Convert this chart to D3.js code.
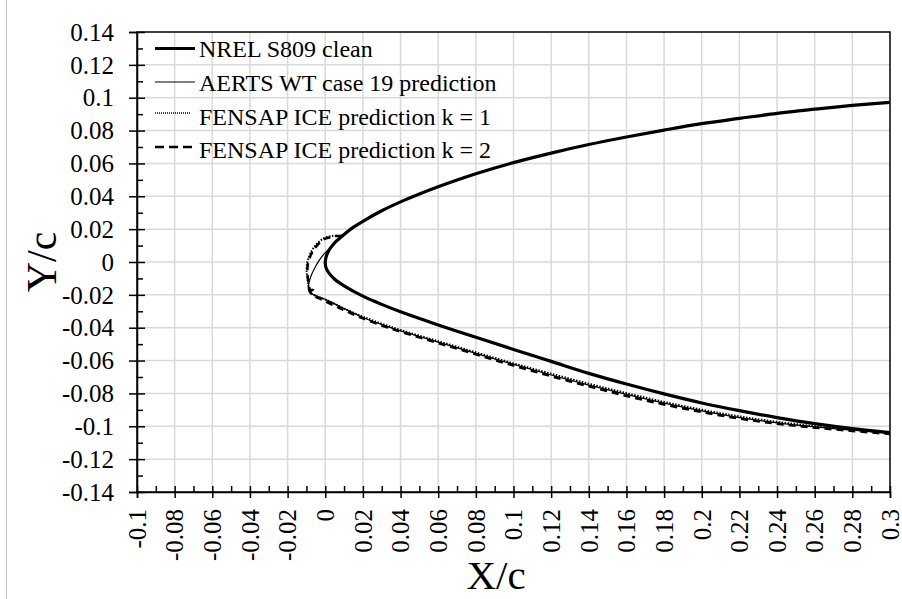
<!DOCTYPE html>
<html>
<head>
<meta charset="utf-8">
<script src="https://cdn.jsdelivr.net/npm/d3@7"></script>
<style>
  html, body { margin: 0; padding: 0; background: #fff; }
  svg { display: block; }
</style>
</head>
<body>
<svg id="chart" width="902" height="599"></svg>
<script>
// ---- Data: chord-normalised coordinates (x/c, y/c) ----
// Clean NREL S809 contour, upper surface from x/c = 0.3 to the nose, then lower surface back to 0.3
const nrelClean = [
  [0.30, 0.0972], [0.28, 0.0953], [0.26, 0.0930], [0.24, 0.0905], [0.22, 0.0874],
  [0.20, 0.0842], [0.18, 0.0803], [0.16, 0.0761], [0.14, 0.0715], [0.12, 0.0663],
  [0.10, 0.0605], [0.08, 0.0537], [0.06, 0.0458], [0.05, 0.0414], [0.04, 0.0366],
  [0.03, 0.0312], [0.02, 0.0248], [0.015, 0.0212], [0.01, 0.0168], [0.006, 0.0128],
  [0.003, 0.0089], [0.0012, 0.0055], [0.0003, 0.0024], [0.0, -0.0008],
  [0.0005, -0.0038], [0.002, -0.0068], [0.005, -0.0105], [0.01, -0.0145],
  [0.02, -0.0208], [0.03, -0.0258], [0.04, -0.0303], [0.06, -0.0383], [0.08, -0.0458],
  [0.10, -0.0532], [0.12, -0.0605], [0.14, -0.0678], [0.16, -0.0743], [0.18, -0.0803],
  [0.20, -0.0858], [0.22, -0.0905], [0.24, -0.0947], [0.26, -0.0984], [0.28, -0.1014],
  [0.30, -0.1038]
];

// Ice shape measured in the AERTS wind tunnel, case 19
const aertsCase19 = [
  [0.0035, 0.0093], [0.001, 0.0068], [-0.0015, 0.0038], [-0.0035, 0.0005],
  [-0.0055, -0.0035], [-0.0072, -0.0075], [-0.0083, -0.0112], [-0.0090, -0.0148],
  [-0.0088, -0.0175], [-0.0075, -0.0192], [-0.0050, -0.0205], [-0.0020, -0.0218],
  [0.002, -0.0238], [0.006, -0.0260], [0.01, -0.0283], [0.015, -0.0310],
  [0.02, -0.0338], [0.03, -0.0381], [0.04, -0.0419], [0.06, -0.0488], [0.08, -0.0556],
  [0.10, -0.0623], [0.12, -0.0688], [0.14, -0.0749], [0.16, -0.0806], [0.18, -0.0859],
  [0.20, -0.0906], [0.22, -0.0947], [0.24, -0.0979], [0.26, -0.1004], [0.28, -0.1024],
  [0.30, -0.1043]
];

// FENSAP-ICE prediction, roughness k = 1
const fensapK1 = [
  [0.0075, 0.0158], [0.005, 0.0160], [0.002, 0.0155], [-0.001, 0.0142],
  [-0.0035, 0.0122], [-0.0055, 0.0097], [-0.0072, 0.0068], [-0.0085, 0.0035],
  [-0.0095, 0.0000], [-0.0099, -0.0040], [-0.0097, -0.0080], [-0.0092, -0.0122],
  [-0.0087, -0.0158], [-0.0082, -0.0182], [-0.0070, -0.0195], [-0.0040, -0.0212],
  [0.0, -0.0228], [0.005, -0.0255], [0.01, -0.0283], [0.02, -0.0333], [0.03, -0.0375],
  [0.04, -0.0414], [0.06, -0.0482], [0.08, -0.0550], [0.10, -0.0617], [0.12, -0.0680],
  [0.14, -0.0741], [0.16, -0.0798], [0.18, -0.0852], [0.20, -0.0899], [0.22, -0.0940],
  [0.24, -0.0973], [0.26, -0.0999], [0.28, -0.1020], [0.30, -0.1040]
];

// FENSAP-ICE prediction, roughness k = 2 (small loop at the lower horn)
const fensapK2 = [
  [0.009, 0.0160], [0.006, 0.0158], [0.003, 0.0152], [0.0, 0.0142],
  [-0.0025, 0.0122], [-0.0048, 0.0095], [-0.0068, 0.0062], [-0.0082, 0.0028],
  [-0.0092, -0.0010], [-0.0095, -0.0050], [-0.0093, -0.0090], [-0.0088, -0.0130],
  [-0.0083, -0.0165], [-0.0078, -0.0185], [-0.0065, -0.0192], [-0.0058, -0.0180],
  [-0.0068, -0.0170], [-0.0080, -0.0178], [-0.0072, -0.0198], [-0.0050, -0.0212],
  [-0.0020, -0.0228], [0.002, -0.0250], [0.006, -0.0272], [0.01, -0.0293],
  [0.015, -0.0319], [0.02, -0.0343], [0.03, -0.0386], [0.04, -0.0424], [0.06, -0.0493],
  [0.08, -0.0562], [0.10, -0.0630], [0.12, -0.0695], [0.14, -0.0757], [0.16, -0.0815],
  [0.18, -0.0867], [0.20, -0.0913], [0.22, -0.0953], [0.24, -0.0984], [0.26, -0.1008],
  [0.28, -0.1028], [0.30, -0.1047]
];

const seriesNames = [
  "NREL S809 clean",
  "AERTS WT case 19 prediction",
  "FENSAP ICE prediction k = 1",
  "FENSAP ICE prediction k = 2"
];

// Axis ticks
const xTicks = [-0.1, -0.08, -0.06, -0.04, -0.02, 0, 0.02, 0.04, 0.06, 0.08, 0.1,
                0.12, 0.14, 0.16, 0.18, 0.2, 0.22, 0.24, 0.26, 0.28, 0.3];
const yTicks = [-0.14, -0.12, -0.1, -0.08, -0.06, -0.04, -0.02, 0,
                0.02, 0.04, 0.06, 0.08, 0.1, 0.12, 0.14];
const xLabel = "X/c";
const yLabel = "Y/c";

// ---- Layout ----
const FONT = "'Liberation Serif', 'Times New Roman', Times, serif";
const svg = d3.select("#chart");
const W = 902, H = 599;
const plot = { left: 137, right: 890, top: 32, bottom: 492 };

const x = d3.scaleLinear().domain([-0.1, 0.3]).range([plot.left, plot.right]);
const y = d3.scaleLinear().domain([-0.14, 0.14]).range([plot.bottom, plot.top]);

const fmt = v => String(+v.toFixed(2));
const minorOf = ticks => ticks.slice(0, -1).map((t, i) => +((t + ticks[i + 1]) / 2).toFixed(3));

// faint page edge on the left
svg.append("line")
  .attr("x1", 6.5).attr("x2", 6.5).attr("y1", 0).attr("y2", H)
  .attr("stroke", "#c8c8c8").attr("stroke-width", 1);

// ---- Grid ----
const grid = svg.append("g").attr("stroke", "#d9d9d9").attr("stroke-width", 1.5);
grid.selectAll("line.v").data(xTicks.slice(1, -1)).join("line")
  .attr("x1", d => x(d)).attr("x2", d => x(d))
  .attr("y1", plot.top).attr("y2", plot.bottom);
grid.selectAll("line.h").data(yTicks.slice(1, -1)).join("line")
  .attr("x1", plot.left).attr("x2", plot.right)
  .attr("y1", d => y(d)).attr("y2", d => y(d));

// ---- Curves ----
svg.append("defs").append("clipPath").attr("id", "clip")
  .append("rect").attr("x", plot.left).attr("y", plot.top)
  .attr("width", plot.right - plot.left).attr("height", plot.bottom - plot.top);

const line = d3.line().x(d => x(d[0])).y(d => y(d[1])).curve(d3.curveCatmullRom.alpha(0.5));

const styles = [
  { data: nrelClean,   width: 3.2, dash: null },
  { data: aertsCase19, width: 1.2, dash: null },
  { data: fensapK1,    width: 2,   dash: "1.5,1.5" },
  { data: fensapK2,    width: 2.6, dash: "7,5" }
];

const curves = svg.append("g").attr("clip-path", "url(#clip)");
styles.forEach(s => {
  curves.append("path")
    .attr("d", line(s.data))
    .attr("fill", "none")
    .attr("stroke", "#000")
    .attr("stroke-width", s.width)
    .attr("stroke-dasharray", s.dash)
    .attr("stroke-linejoin", "round");
});

// ---- Frame ----
svg.append("rect")
  .attr("x", plot.left).attr("y", plot.top)
  .attr("width", plot.right - plot.left).attr("height", plot.bottom - plot.top)
  .attr("fill", "none").attr("stroke", "#000").attr("stroke-width", 1.5);

// ---- Axes ----
const styleAxis = g => {
  g.select(".domain").attr("stroke", "#000").attr("stroke-width", 1.5);
  g.selectAll(".tick line").attr("stroke", "#000").attr("stroke-width", 1.5);
};

// y axis: major ticks crossing the axis, minor ticks inside
svg.append("g").attr("transform", `translate(${plot.left},0)`)
  .call(d3.axisLeft(y).tickValues(yTicks).tickSize(8).tickFormat(""))
  .call(styleAxis);
svg.append("g").attr("transform", `translate(${plot.left},0)`)
  .call(d3.axisLeft(y).tickValues(yTicks).tickSize(-8).tickFormat(""))
  .call(styleAxis).call(g => g.select(".domain").remove());
svg.append("g").attr("transform", `translate(${plot.left},0)`)
  .call(d3.axisLeft(y).tickValues(minorOf(yTicks)).tickSize(-6).tickFormat(""))
  .call(styleAxis).call(g => g.select(".domain").remove());

svg.append("g").selectAll("text").data(yTicks).join("text")
  .attr("x", 114).attr("y", d => y(d)).attr("dy", "0.35em")
  .attr("text-anchor", "end")
  .attr("font-family", FONT).attr("font-size", 25)
  .text(fmt);

// x axis
svg.append("g").attr("transform", `translate(0,${plot.bottom})`)
  .call(d3.axisBottom(x).tickValues(xTicks).tickSize(6).tickFormat(""))
  .call(styleAxis);
svg.append("g").attr("transform", `translate(0,${plot.bottom})`)
  .call(d3.axisBottom(x).tickValues(xTicks).tickSize(-6).tickFormat(""))
  .call(styleAxis).call(g => g.select(".domain").remove());
svg.append("g").attr("transform", `translate(0,${plot.bottom})`)
  .call(d3.axisBottom(x).tickValues(minorOf(xTicks)).tickSize(-6).tickFormat(""))
  .call(styleAxis).call(g => g.select(".domain").remove());

svg.append("g").selectAll("text").data(xTicks).join("text")
  .attr("transform", d => `translate(${x(d)},509) rotate(-90)`)
  .attr("dy", "0.35em")
  .attr("text-anchor", "end")
  .attr("font-family", FONT).attr("font-size", 25)
  .text(fmt);

// axis titles
svg.append("text")
  .attr("x", 496).attr("y", 589)
  .attr("text-anchor", "middle")
  .attr("font-family", FONT).attr("font-size", 41)
  .text(xLabel);
svg.append("text")
  .attr("transform", `translate(56,${y(0)}) rotate(-90)`)
  .attr("text-anchor", "middle")
  .attr("font-family", FONT).attr("font-size", 42)
  .text(yLabel);

// ---- Legend ----
const legendRows = [
  { base: 57,  lineY: 48.5, x2: 195 },
  { base: 91,  lineY: 82,   x2: 195 },
  { base: 125, lineY: 113,  x2: 191 },
  { base: 158, lineY: 147,  x2: 195 }
];
const legend = svg.append("g");
legendRows.forEach((r, i) => {
  legend.append("line")
    .attr("x1", 155).attr("x2", r.x2).attr("y1", r.lineY).attr("y2", r.lineY)
    .attr("stroke", "#000")
    .attr("stroke-width", i === 2 ? 1.5 : styles[i].width)
    .attr("stroke-dasharray", i === 2 ? "1,1" : (i === 3 ? "9,5" : null));
  legend.append("text")
    .attr("x", 199).attr("y", r.base)
    .attr("font-family", FONT).attr("font-size", 24)
    .text(seriesNames[i]);
});
</script>
</body>
</html>
